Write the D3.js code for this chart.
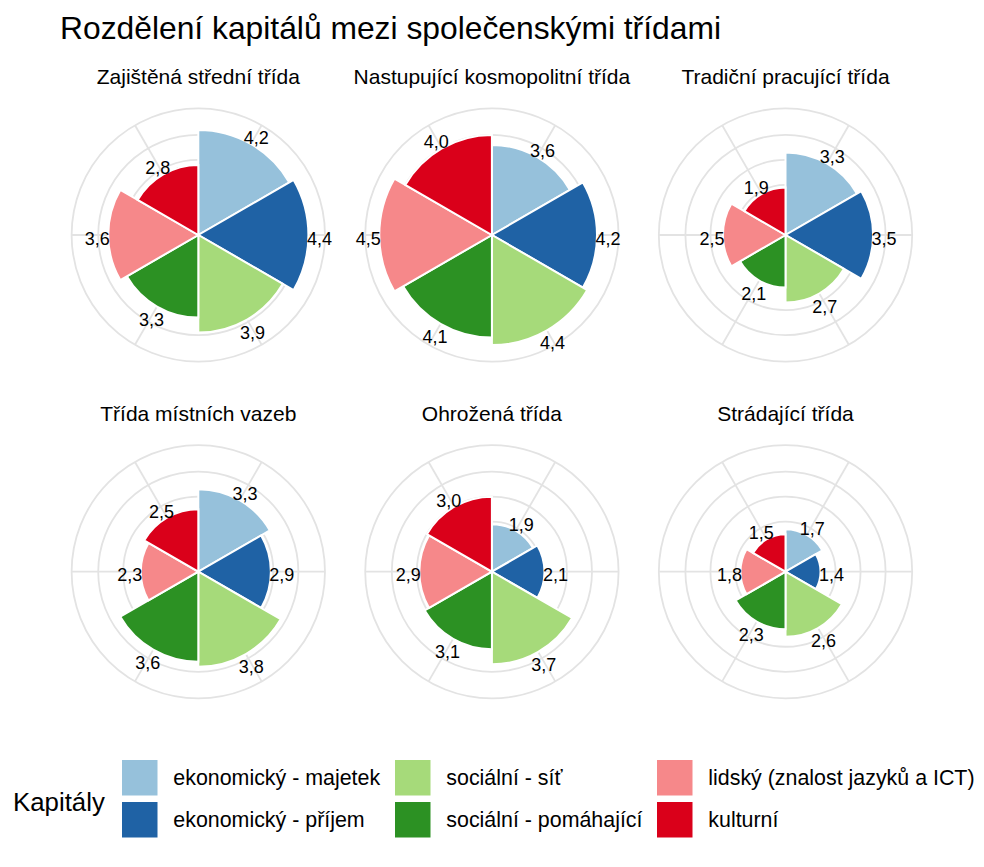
<!DOCTYPE html>
<html><head><meta charset="utf-8">
<script src="https://cdn.jsdelivr.net/npm/d3@7"></script>
<style>
body{margin:0;background:#fff;}
text{font-family:"Liberation Sans",Arial,sans-serif;fill:#000;}
</style></head>
<body><svg id="c" width="984" height="867"></svg>
<script>
const title = "Rozdělení kapitálů mezi společenskými třídami";
const classes = ["Zajištěná střední třída","Nastupující kosmopolitní třída","Tradiční pracující třída","Třída místních vazeb","Ohrožená třída","Strádající třída"];
const capitals = ["ekonomický - majetek","ekonomický - příjem","sociální - síť","sociální - pomáhající","lidský (znalost jazyků a ICT)","kulturní"];
const colors = ["#96C1DB","#1F62A5","#A6DA7A","#2C9123","#F6888A","#DA001A"];
const valZajistena = [4.2,4.4,3.9,3.3,3.6,2.8];
const valNastupujici = [3.6,4.2,4.4,4.1,4.5,4.0];
const valTradicni = [3.3,3.5,2.7,2.1,2.5,1.9];
const valMistni = [3.3,2.9,3.8,3.6,2.3,2.5];
const valOhrozena = [1.9,2.1,3.7,3.1,2.9,3.0];
const valStradajici = [1.7,1.4,2.6,2.3,1.8,1.5];
const radialBreaks = [1,2,3,4];
const legendTitle = "Kapitály";

const series = [valZajistena,valNastupujici,valTradicni,valMistni,valOhrozena,valStradajici];
const svg = d3.select("#c");
const fmt = v => d3.format(".1f")(v).replace(".", ",");

svg.append("text").attr("x",60).attr("y",39).attr("font-size",31.8).text(title);

const pw = 281.5;
const colCx = [198.3, 491.9, 785.5];
const rowCy = [235, 571.7];
const r = d3.scaleLinear().domain([0,4.5]).range([0,0.4*pw]);
const rOuter = 0.45*pw;
const theta = d3.scaleBand().domain(capitals).range([0,2*Math.PI]).padding(0);
const arc = d3.arc();

classes.forEach((cls,i)=>{
  const cx = colCx[i%3], cy = rowCy[Math.floor(i/3)];
  const g = svg.append("g").attr("transform",`translate(${cx},${cy})`);
  svg.append("text").attr("x",cx).attr("y",cy-151).attr("text-anchor","middle").attr("font-size",21).text(cls);
  const circ = radialBreaks.map(b=>r(b)).concat([rOuter]);
  g.selectAll("circle.grid").data(circ).enter().append("circle")
    .attr("r",d=>d).attr("fill","none").attr("stroke","#e3e3e3").attr("stroke-width",1.8);
  g.selectAll("line.spoke").data(capitals).enter().append("line")
    .attr("x1",0).attr("y1",0)
    .attr("x2",d=>rOuter*Math.sin(theta(d)+theta.bandwidth()/2))
    .attr("y2",d=>-rOuter*Math.cos(theta(d)+theta.bandwidth()/2))
    .attr("stroke","#e3e3e3").attr("stroke-width",1.8);
  const data = capitals.map((c,j)=>({c, v:series[i][j], col:colors[j]}));
  g.selectAll("path.bar").data(data).enter().append("path")
    .attr("d",d=>arc({innerRadius:0,outerRadius:r(d.v),startAngle:theta(d.c),endAngle:theta(d.c)+theta.bandwidth()}))
    .attr("fill",d=>d.col).attr("stroke","#fff").attr("stroke-width",2);
  g.selectAll("text.lab").data(data).enter().append("text")
    .attr("x",d=>(r(d.v)+11)*Math.sin(theta(d.c)+theta.bandwidth()/2))
    .attr("y",d=>-(r(d.v)+11)*Math.cos(theta(d.c)+theta.bandwidth()/2)+3.5)
    .attr("text-anchor","middle").attr("dominant-baseline","central")
    .attr("font-size",18).text(d=>fmt(d.v));
});

svg.append("text").attr("x",13).attr("y",802).attr("dominant-baseline","central").attr("font-size",25.8).text(legendTitle);
const keyX = [122,395,657], keyY=[760,802], ks=35.5;
capitals.forEach((c,j)=>{
  const x = keyX[Math.floor(j/2)], y = keyY[j%2];
  svg.append("rect").attr("x",x).attr("y",y).attr("width",ks).attr("height",ks).attr("fill",colors[j]);
  svg.append("text").attr("x",x+51.3).attr("y",y+ks/2).attr("dominant-baseline","central").attr("font-size",21.4).text(c);
});
</script></body></html>
